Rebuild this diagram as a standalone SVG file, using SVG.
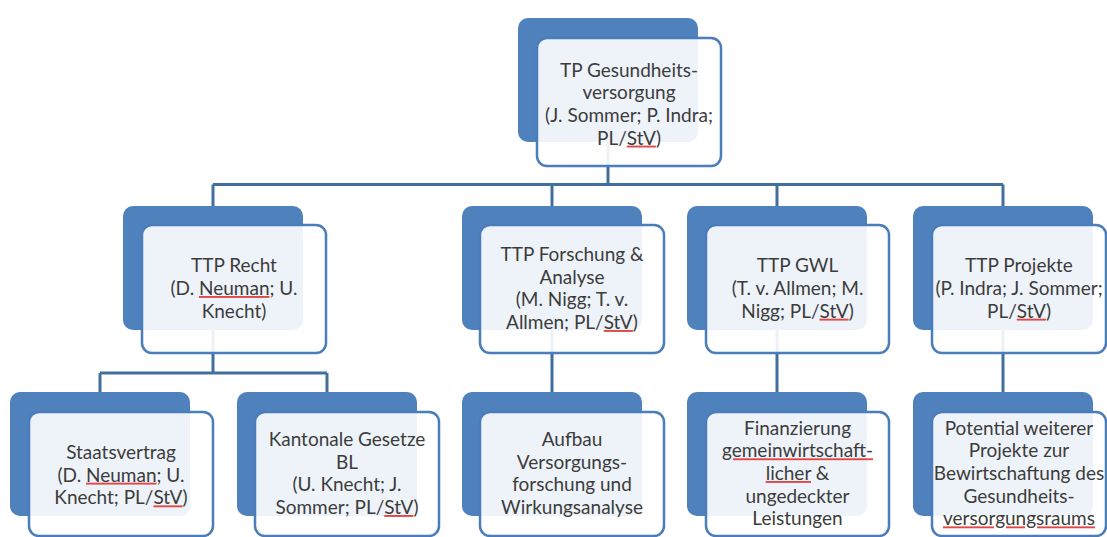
<svg xmlns="http://www.w3.org/2000/svg" width="1107" height="537" viewBox="0 0 1107 537">
<style>
.back{fill:#4f81bd;}
.front{fill:#ffffff;fill-opacity:0.9;stroke:#4a7dba;stroke-width:2.5;}
.conn{stroke:#41709f;stroke-width:3;fill:none;}
.t{font-family:Lato,"Open Sans",sans-serif;font-size:19px;fill:#3c3c3c;text-anchor:middle;}
.sp{fill:#e04848;text-decoration:underline;}
.sp tspan{fill:#3c3c3c;}
</style>
<rect width="1107" height="537" fill="#ffffff"/>
<g id="connectors">
<path class="conn" d="M608 142V184.5M213 184.5H1003M213 184.5V206M552 184.5V206M777 184.5V206M1003 184.5V206"/>
<path class="conn" d="M213 330V373M100 373H327M100 373V392M327 373V392"/>
<path class="conn" d="M552 330V392M777 330V392M1003 330V392"/>
</g>
<g id="n-top">
<rect class="back" x="518" y="18" width="180" height="124" rx="10"/>
<rect class="front" x="537" y="38" width="184" height="128" rx="10"/>
<text class="t" x="629" y="76.5">TP Gesundheits-</text>
<text class="t" x="629" y="99.2">versorgung</text>
<text class="t" x="629" y="121.9">(J. Sommer; P. Indra;</text>
<text class="t" x="629" y="144.6">PL/<tspan class="sp"><tspan>StV</tspan></tspan>)</text>
</g>
<g id="n-recht">
<rect class="back" x="123" y="206" width="180" height="124" rx="10"/>
<rect class="front" x="142" y="225" width="184" height="128" rx="10"/>
<text class="t" x="234" y="272.3">TTP Recht</text>
<text class="t" x="234" y="295">(D. <tspan class="sp"><tspan>Neuman</tspan></tspan>; U.</text>
<text class="t" x="234" y="317.7">Knecht)</text>
</g>
<g id="n-forschung">
<rect class="back" x="462" y="206" width="180" height="124" rx="10"/>
<rect class="front" x="480" y="225" width="184" height="128" rx="10"/>
<text class="t" x="572" y="261">TTP Forschung &amp;</text>
<text class="t" x="572" y="283.7">Analyse</text>
<text class="t" x="572" y="306.3">(M. Nigg; T. v.</text>
<text class="t" x="572" y="329">Allmen; PL/<tspan class="sp"><tspan>StV</tspan></tspan>)</text>
</g>
<g id="n-gwl">
<rect class="back" x="687" y="206" width="180" height="124" rx="10"/>
<rect class="front" x="706" y="225" width="183" height="128" rx="10"/>
<text class="t" x="797.5" y="272.3">TTP GWL</text>
<text class="t" x="797.5" y="295">(T. v. Allmen; M.</text>
<text class="t" x="797.5" y="317.7">Nigg; PL/<tspan class="sp"><tspan>StV</tspan></tspan>)</text>
</g>
<g id="n-projekte">
<rect class="back" x="913" y="206" width="180" height="124" rx="10"/>
<rect class="front" x="932" y="225" width="174" height="128" rx="10"/>
<text class="t" x="1019" y="272.3">TTP Projekte</text>
<text class="t" x="1019" y="295">(P. Indra; J. Sommer;</text>
<text class="t" x="1019" y="317.7">PL/<tspan class="sp"><tspan>StV</tspan></tspan>)</text>
</g>
<g id="n-staatsvertrag">
<rect class="back" x="10" y="392" width="180" height="124" rx="10"/>
<rect class="front" x="29" y="412" width="184" height="124" rx="10"/>
<text class="t" x="121" y="459">Staatsvertrag</text>
<text class="t" x="121" y="481.7">(D. <tspan class="sp"><tspan>Neuman</tspan></tspan>; U.</text>
<text class="t" x="121" y="504.4">Knecht; PL/<tspan class="sp"><tspan>StV</tspan></tspan>)</text>
</g>
<g id="n-kantonal">
<rect class="back" x="237" y="392" width="180" height="124" rx="10"/>
<rect class="front" x="255" y="412" width="184" height="124" rx="10"/>
<text class="t" x="347" y="446">Kantonale Gesetze</text>
<text class="t" x="347" y="468.7">BL</text>
<text class="t" x="347" y="491.3">(U. Knecht; J.</text>
<text class="t" x="347" y="514">Sommer; PL/<tspan class="sp"><tspan>StV</tspan></tspan>)</text>
</g>
<g id="n-aufbau">
<rect class="back" x="462" y="392" width="180" height="124" rx="10"/>
<rect class="front" x="480" y="412" width="184" height="124" rx="10"/>
<text class="t" x="572" y="446">Aufbau</text>
<text class="t" x="572" y="468.7">Versorgungs-</text>
<text class="t" x="572" y="491.3">forschung und</text>
<text class="t" x="572" y="514">Wirkungsanalyse</text>
</g>
<g id="n-finanzierung">
<rect class="back" x="687" y="392" width="180" height="124" rx="10"/>
<rect class="front" x="706" y="412" width="183" height="124" rx="10"/>
<text class="t" x="797.5" y="434.6">Finanzierung</text>
<text class="t" x="797.5" y="457.3"><tspan class="sp"><tspan>gemeinwirtschaft-</tspan></tspan></text>
<text class="t" x="797.5" y="480"><tspan class="sp"><tspan>licher</tspan></tspan> &amp;</text>
<text class="t" x="797.5" y="502.7">ungedeckter</text>
<text class="t" x="797.5" y="525.4">Leistungen</text>
</g>
<g id="n-potential">
<rect class="back" x="913" y="392" width="180" height="124" rx="10"/>
<rect class="front" x="932" y="412" width="174" height="124" rx="10"/>
<text class="t" x="1019" y="434.6">Potential weiterer</text>
<text class="t" x="1019" y="457.3">Projekte zur</text>
<text class="t" x="1019" y="480">Bewirtschaftung des</text>
<text class="t" x="1019" y="502.7">Gesundheits-</text>
<text class="t" x="1019" y="525.4"><tspan class="sp"><tspan>versorgungsraums</tspan></tspan></text>
</g>
</svg>
